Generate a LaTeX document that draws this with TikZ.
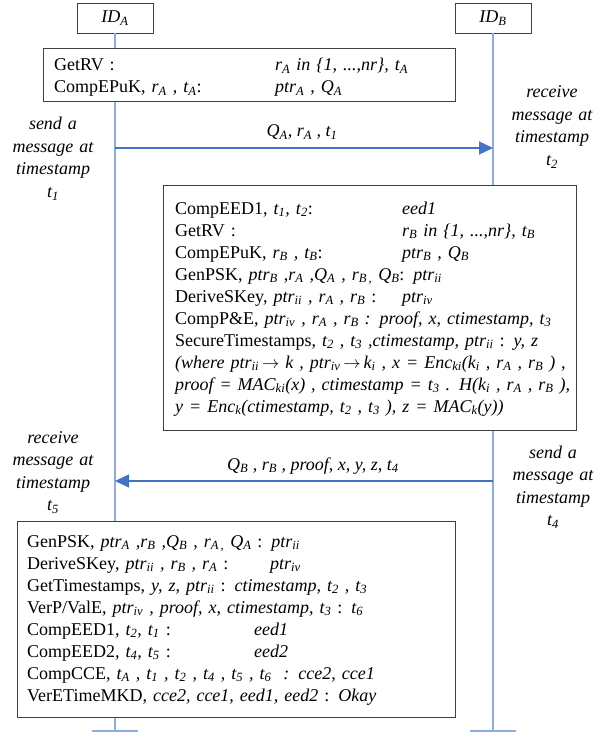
\documentclass[tikz,border=0pt]{standalone}
\usepackage{fontspec}
\setmainfont{Liberation Serif}
\usepackage{tikz}
\usetikzlibrary{arrows.meta,positioning,calc}
\definecolor{sqInk}{HTML}{3F3F3F}
\definecolor{sqLife}{HTML}{8FAADC}
\definecolor{sqMsg}{HTML}{4472C4}
\newcommand{\sbs}[1]{\textsubscript{#1}}
\newcommand{\colw}[2]{\makebox[#1][l]{#2}}
\tikzset{
  idbox/.style={rectangle,draw=sqInk,thick,fill=white,
    minimum width=76pt,minimum height=30pt,inner sep=0pt,
    font=\fontsize{18}{22}\selectfont\itshape},
  framebox/.style={rectangle,draw=sqInk,thick,fill=white,
    anchor=north west,inner sep=0pt},
  steptext/.style={anchor=base west,inner sep=0pt,align=left,
    text width=#1,font=\fontsize{18}{22}\selectfont},
  lifeline/.style={draw=sqLife,line width=1.2pt},
  msg/.style={-{Triangle[length=14pt,width=13pt]},draw=sqMsg,line width=1.2pt},
  note/.style={anchor=base,inner sep=0pt,align=center,text width=110pt,
    font=\fontsize{18}{22.5}\selectfont\itshape},
  lbl/.style={anchor=base,inner sep=0pt,
    font=\fontsize{18}{22}\selectfont\itshape},
}
\begin{document}
\begin{tikzpicture}[x=1pt,y=1pt]
  \useasboundingbox (0,0) rectangle (613,-738);

  % Participants and lifelines
  \node[idbox] (idA) at (115,-18) {ID\sbs{A}};
  \node[idbox] (idB) at (493,-18) {ID\sbs{B}};
  \coordinate (endA) at (115,-731);
  \coordinate (endB) at (493,-731);
  \draw[lifeline] (idA.south) -- (endA);
  \draw[lifeline] (idB.south) -- (endB);
  \draw[lifeline] ([xshift=-23pt]endA) -- ([xshift=23pt]endA);
  \draw[lifeline] ([xshift=-23pt]endB) -- ([xshift=23pt]endB);

  % Step 1 — A prepares
  \node[framebox,minimum width=412pt,minimum height=53pt] (box1) at (43,-48) {};
  \node[steptext=395pt] (box1txt) at (54,-71)
    {\colw{221pt}{GetRV :}\textit{r\sbs{A} in \{1, ...,nr\}, t\sbs{A}}\\
     \colw{221pt}{CompEPuK, \textit{r\sbs{A} , t\sbs{A}}:}\textit{ptr\sbs{A} , Q\sbs{A}}};

  % Message A -> B
  \coordinate (m1a) at (115,-148);
  \coordinate (m1b) at (493,-148);
  \draw[msg] (m1a) -- (m1b);
  \node[lbl] (m1lbl) at (302,-137) {Q\sbs{A}, r\sbs{A} , t\sbs{1}};
  \node[note] (sendA) at (53,-130) {send a\\message at\\timestamp\\t\sbs{1}};
  \node[note] (recvB) at (552,-98) {receive\\message at\\timestamp\\t\sbs{2}};

  % Step 2 — B computes
  \node[framebox,minimum width=413pt,minimum height=245pt] (box2) at (163,-185) {};
  \node[steptext=430pt] (box2txt) at (175,-214)
    {\colw{227pt}{CompEED1, \textit{t\sbs{1}, t\sbs{2}}:}\textit{eed1}\\
     \colw{227pt}{GetRV :}\textit{r\sbs{B} in \{1, ...,nr\}, t\sbs{B}}\\
     \colw{227pt}{CompEPuK, \textit{r\sbs{B} , t\sbs{B}}:}\textit{ptr\sbs{B} , Q\sbs{B}}\\
     GenPSK, \textit{ptr\sbs{B} ,r\sbs{A} ,Q\sbs{A} , r\sbs{B\,,} Q\sbs{B}}: \textit{ptr\sbs{ii}}\\
     \colw{227pt}{DeriveSKey, \textit{ptr\sbs{ii} , r\sbs{A} , r\sbs{B}} :}\textit{ptr\sbs{iv}}\\
     CompP\&E, \textit{ptr\sbs{iv} , r\sbs{A} , r\sbs{B} : proof, x, ctimestamp, t\sbs{3}}\\
     SecureTimestamps, \textit{t\sbs{2} , t\sbs{3} ,ctimestamp, ptr\sbs{ii}} : \textit{y, z}\\
     \textit{(where ptr\sbs{ii}\,$\rightarrow$\ k , ptr\sbs{iv}\,$\rightarrow$\,k\sbs{i} , x = Enc\sbs{ki}(k\sbs{i} , r\sbs{A} , r\sbs{B} ) ,}\\
     \textit{proof = MAC\sbs{ki}(x) , ctimestamp = t\sbs{3} . H(k\sbs{i} , r\sbs{A} , r\sbs{B} ),}\\
     \textit{y = Enc\sbs{k}(ctimestamp, t\sbs{2} , t\sbs{3} ), z = MAC\sbs{k}(y))}};

  % Message B -> A
  \coordinate (m2b) at (493,-481);
  \coordinate (m2a) at (115,-481);
  \draw[msg] (m2b) -- (m2a);
  \node[lbl] (m2lbl) at (313,-470) {Q\sbs{B} , r\sbs{B} , proof, x, y, z, t\sbs{4}};
  \node[note] (recvA) at (53,-443) {receive\\message at\\timestamp\\t\sbs{5}};
  \node[note] (sendB) at (553,-458) {send a\\message at\\timestamp\\t\sbs{4}};

  % Step 3 — A verifies
  \node[framebox,minimum width=438pt,minimum height=196pt] (box3) at (17,-521) {};
  \node[steptext=420pt] (box3txt) at (27,-547)
    {GenPSK, \textit{ptr\sbs{A} ,r\sbs{B} ,Q\sbs{B} , r\sbs{A\,,} Q\sbs{A}} : \textit{ptr\sbs{ii}}\\
     \colw{243pt}{DeriveSKey, \textit{ptr\sbs{ii} , r\sbs{B} , r\sbs{A}} :}\textit{ptr\sbs{iv}}\\
     GetTimestamps, \textit{y, z, ptr\sbs{ii}} : \textit{ctimestamp, t\sbs{2} , t\sbs{3}}\\
     VerP/ValE, \textit{ptr\sbs{iv} , proof, x, ctimestamp, t\sbs{3}} : \textit{t\sbs{6}}\\
     \colw{227pt}{CompEED1, \textit{t\sbs{2}, t\sbs{1}} :}\textit{eed1}\\
     \colw{227pt}{CompEED2, \textit{t\sbs{4}, t\sbs{5}} :}\textit{eed2}\\
     CompCCE, \textit{t\sbs{A} , t\sbs{1} , t\sbs{2} , t\sbs{4} , t\sbs{5} , t\sbs{6}\ \ : cce2, cce1}\\
     VerETimeMKD, \textit{cce2, cce1, eed1, eed2} : \textit{Okay}};
\end{tikzpicture}
\end{document}
